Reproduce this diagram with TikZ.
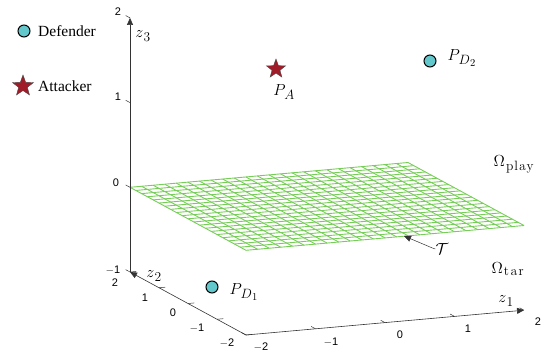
\documentclass[tikz,border=0pt]{standalone}
\usepackage{fix-cm}
\usepackage[no-math]{fontspec}
\usetikzlibrary{shapes.geometric,arrows.meta}
\newfontfamily\legendfont{Liberation Serif}
\newfontfamily\tickfont{Liberation Sans}
\DeclareMathSizes{16}{16}{13.5}{10.5}
\definecolor{defcyan}{RGB}{98,200,204}
\definecolor{attred}{RGB}{160,28,40}
\definecolor{meshgreen}{RGB}{118,206,88}
\tikzset{
  defender/.style={circle,draw=black,line width=1pt,fill=defcyan,minimum size=12pt,inner sep=0pt},
  attacker/.style={star,star points=5,star point ratio=2.4,draw=black!70,line width=0.4pt,fill=attred,inner sep=0pt},
  legendtxt/.style={font=\legendfont\fontsize{15.5}{17}\selectfont,anchor=west,inner sep=0pt},
  ticklab/.style={font=\tickfont\fontsize{11}{12}\selectfont,inner sep=0pt},
  mathlab/.style={font=\fontsize{16}{18}\selectfont,inner sep=0pt},
  axisline/.style={line width=0.6pt,draw=black!80},
  axisarrow/.style={axisline,-{Triangle[length=7pt,width=6pt]}},
  tickmark/.style={line width=0.5pt,draw=black!80},
  meshline/.style={line width=0.9pt,draw=meshgreen}
}
\begin{document}
\begin{tikzpicture}[x=1pt,y=-1pt]
\useasboundingbox (0,0) rectangle (551,356);
% legend
\node[defender] (legdef) at (24,31) {};
\node[legendtxt] (legdeftxt) at (38,31) {Defender};
\node[attacker,minimum size=22pt] (legatt) at (23,86) {};
\node[legendtxt] (legatttxt) at (38,86) {Attacker};
% 3D part
\begin{scope}[shift={(327pt,-206.4pt)},x={(69.5pt,6.2pt)},y={(-29pt,15.75pt)},z={(0pt,84.7pt)}]
  % mesh
  \foreach \i in {0,...,24}{
    \draw[meshline] ({-2+4*\i/24},-2,0) -- ({-2+4*\i/24},2,0);
  }
  \foreach \j in {0,...,20}{
    \draw[meshline] (-2,{-2+4*\j/20},0) -- (2,{-2+4*\j/20},0);
  }
  % axes
  \coordinate (c3top) at (-2,2,2);
  \coordinate (cA) at (-2,2,-1);
  \coordinate (cB) at (-2,-2,-1);
  \coordinate (c1end) at (2,-2,-1);
  \draw[axisarrow] (cA) -- (c3top);
  \draw[axisarrow] (cB) -- (cA);
  \draw[axisarrow] (cB) -- (c1end);
  % ticks z3
  \foreach \k in {-1,0,1,2}{
    \draw[tickmark] (-2,2,\k) -- (-2,2.15,\k);
  }
  % ticks z2
  \foreach \k in {-2,-1,0,1,2}{
    \draw[tickmark] (-2,\k,-1) -- (-1.91,\k,-1);
  }
  % ticks z1
  \foreach \k in {-2,-1,0,1,2}{
    \draw[tickmark] (\k,-2,-1) -- (\k,-1.85,-1);
  }
\end{scope}
% tick labels z3
\node[ticklab] (t3a) at (118,12) {2};
\node[ticklab] (t3b) at (118,97) {1};
\node[ticklab] (t3c) at (116,183) {0};
\node[ticklab] (t3d) at (113,270) {$-$1};
% tick labels z2
\node[ticklab] (t2a) at (115,283) {2};
\node[ticklab] (t2b) at (145,298) {1};
\node[ticklab] (t2c) at (173,313) {0};
\node[ticklab] (t2d) at (197,328) {$-$1};
\node[ticklab] (t2e) at (227,343) {$-$2};
% tick labels z1
\node[ticklab] (t1a) at (261,347) {$-$2};
\node[ticklab] (t1b) at (331,342) {$-$1};
\node[ticklab] (t1c) at (400,335) {0};
\node[ticklab] (t1d) at (468,329) {1};
\node[ticklab] (t1e) at (538,322) {2};
% axis labels
\node[mathlab] (z3lab) at (143,36) {$z_{\kern1pt 3}$};
\node[mathlab] (z2lab) at (154,276) {$z_{\kern1pt 2}$};
\node[mathlab] (z1lab) at (506,301) {$z_{\kern1pt 1}$};
% players
\node[attacker,minimum size=20pt] (pa) at (276,69) {};
\node[mathlab] (palab) at (284,92) {$P_{\kern1pt A}$};
\node[defender] (pd2) at (430,61) {};
\node[mathlab] (pd2lab) at (462,58) {$P_{\kern1pt D_{\kern0.5pt 2}}$};
\node[defender] (pd1) at (212,287) {};
\node[mathlab] (pd1lab) at (244,292) {$P_{\kern1pt D_{\kern0.5pt 1}}$};
% regions
\node[mathlab] (omplay) at (514,164) {$\Omega_{\kern1pt\mathrm{p\kern1pt l\kern1pt a\kern1pt y}}$};
\node[mathlab] (omtar) at (508,269) {$\Omega_{\kern1pt\mathrm{t\kern1.5pt a\kern1.5pt r}}$};
% target set arrow
\node[mathlab] (tlab) at (442,249) {$\mathcal{T}$};
\coordinate (ttip) at (404,236);
\draw[tickmark,-{Triangle[length=7pt,width=6pt]}] (tlab.west) -- ++(-3,-1) -- (ttip);
\end{tikzpicture}
\end{document}
